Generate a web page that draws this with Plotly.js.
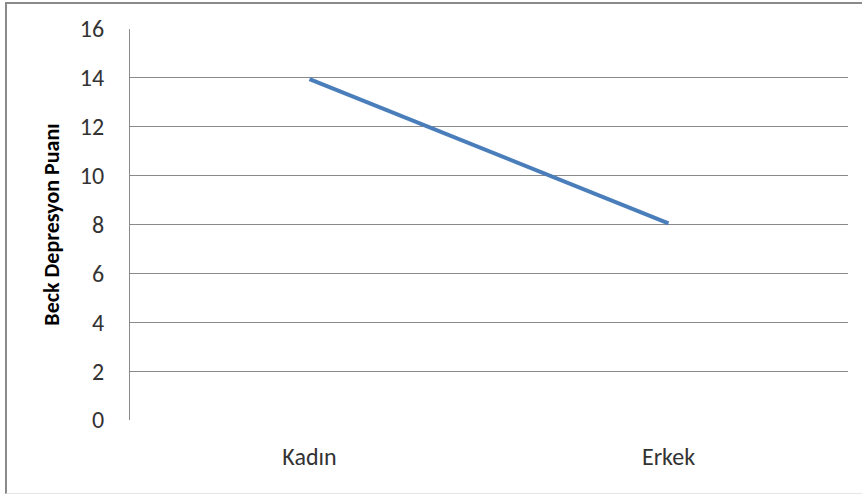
<!DOCTYPE html>
<html>
<head>
<meta charset="utf-8">
<script src="https://cdn.plot.ly/plotly-3.0.1.min.js"></script>
<style>
  html, body { margin: 0; padding: 0; background: #ffffff; overflow: hidden; }
  #chart { width: 862px; height: 495px; position: relative; }
  /* chart-area frame: left and top edges show, the right edge runs off the page */
  #frame { position: absolute; left: 5px; top: 2px; width: 870px; height: 492px;
           border-left: 2px solid #8a8a8a; border-top: 2px solid #8a8a8a;
           border-bottom: 1px solid #e6e6e6;
           pointer-events: none; box-sizing: border-box; z-index: 5; }
</style>
</head>
<body>
<div id="chart"><div id="frame"></div></div>
<script>
// Mean Beck depression score by gender
const categories = ["Kadın", "Erkek"];
const scores = [13.95, 8.05];
const yTicks = [0, 2, 4, 6, 8, 10, 12, 14, 16];

const font = "Calibri, Carlito, 'Open Sans', 'Noto Sans', sans-serif";

const trace = {
  type: "scatter",
  mode: "lines",
  x: categories,
  y: scores,
  line: { color: "#4a7ebb", width: 4 },
  hoverinfo: "x+y"
};

const layout = {
  width: 862,
  height: 495,
  margin: { l: 130, r: 14, t: 29, b: 75 },
  paper_bgcolor: "#ffffff",
  plot_bgcolor: "#ffffff",
  showlegend: false,
  xaxis: {
    type: "category",
    range: [-0.5, 1.5],
    showgrid: false,
    zeroline: false,
    showline: false,
    ticks: "outside",
    ticklen: 15,
    tickcolor: "rgba(0,0,0,0)",
    tickfont: { family: font, size: 24, color: "#333333" }
  },
  yaxis: {
    range: [0, 16],
    tickvals: yTicks,
    ticktext: yTicks.map(String),
    showgrid: true,
    gridcolor: "#8a8a8a",
    gridwidth: 1,
    zeroline: false,
    showline: true,
    linecolor: "#8a8a8a",
    linewidth: 1,
    ticks: "outside",
    ticklen: 20,
    tickcolor: "rgba(0,0,0,0)",
    tickfont: { family: font, size: 24, color: "#333333" },
    title: {
      text: "Beck Depresyon Puanı",
      font: { family: font, size: 22, color: "#000000", weight: "bold" },
      standoff: 14
    }
  }
};

Plotly.newPlot("chart", [trace], layout, { displayModeBar: false, staticPlot: true });
</script>
</body>
</html>
